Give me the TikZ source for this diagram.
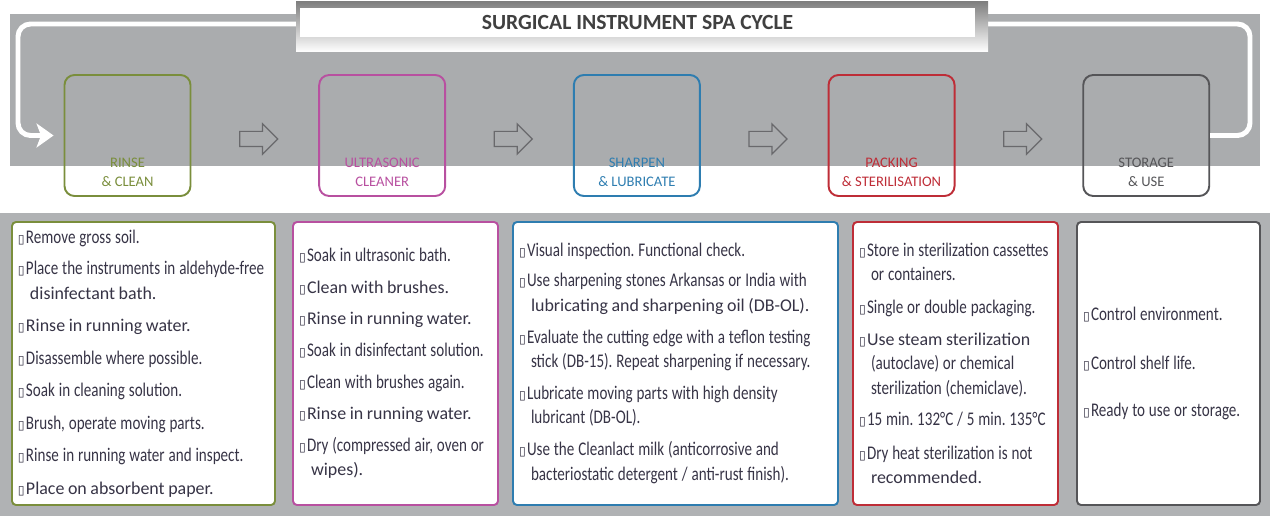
\documentclass[tikz,border=0pt]{standalone}
\usepackage{fontspec}
\setmainfont{Carlito}
\newfontfamily\cond[FakeStretch=0.78]{Carlito}
\newfontfamily\wide{Carlito}
\newfontfamily\symf{DejaVu Sans}
\usetikzlibrary{positioning, calc, shapes.arrows, arrows.meta}
\definecolor{band}{RGB}{170,172,174}
\definecolor{lowgray}{RGB}{176,178,180}
\definecolor{shade}{RGB}{138,140,143}
\definecolor{arrgray}{RGB}{105,105,108}
\definecolor{txt}{RGB}{55,52,70}
\definecolor{cgreen}{RGB}{122,142,60}
\definecolor{cmag}{RGB}{184,80,160}
\definecolor{cblue}{RGB}{46,125,176}
\definecolor{cred}{RGB}{190,45,55}
\definecolor{cdark}{RGB}{85,85,88}
\frenchspacing
\newcommand{\tight}{\spaceskip=0.2em plus 0.08em minus 0.04em\relax}
\newcommand{\itm}{\tight\makebox[1.6mm][l]{\symf\fontsize{7}{7}\selectfont ▯}}
\newcommand{\cnt}{\tight\hspace*{2.4mm}}
\newcommand{\widetxt}[1]{{\wide\fontsize{10.2}{14}\selectfont\tight #1}}
\tikzset{
  stage/.style={draw, rounded corners=2mm, line width=1.1pt,
                minimum width=25.2mm, minimum height=24.2mm},
  slbl/.style={font=\wide\fontsize{8.3}{10.8}\selectfont, align=center, inner sep=0.5mm},
  nxt/.style={single arrow, draw=arrgray, line width=0.7pt, minimum height=7.6mm,
              minimum width=5.8mm, single arrow head extend=1.5mm, inner sep=1.4mm},
  card/.style={draw, fill=white, rounded corners=0.8mm, line width=1.1pt, align=left,
               minimum height=56.6mm, inner xsep=1.2mm, text=txt,
               font=\cond\fontsize{11}{14}\selectfont},
  ttl/.style={fill=white, minimum width=135mm, minimum height=5.8mm, text=black!75,
              font=\wide\bfseries\fontsize{12.3}{13}\selectfont},
  back/.style={white, line width=2.8pt, rounded corners=2.5mm, shorten >=2mm,
               -{Stealth[length=3.4mm, width=4.8mm, inset=0.9mm]}},
}
\begin{document}
\begin{tikzpicture}[x=0.2mm, y=-0.2mm, node distance=25.35mm]
\useasboundingbox (0,0) rectangle (1270,516);
% backdrop
\fill[band] (10,14) rectangle (1260,166);
\fill[lowgray] (0,213) rectangle (1270,516);

% stages
\node[stage, draw=cgreen] (r1) at (127.5,135.5) {};
\node[stage, draw=cmag, right=of r1] (r2) {};
\node[stage, draw=cblue, right=of r2] (r3) {};
\node[stage, draw=cred, right=of r3] (r4) {};
\node[stage, draw=cdark, right=of r4] (r5) {};
\node[slbl, text=cgreen, above=1.6mm of r1.south] (l1) {RINSE\\\& CLEAN};
\node[slbl, text=cmag, above=1.6mm of r2.south] (l2) {ULTRASONIC\\CLEANER};
\node[slbl, text=cblue, above=1.6mm of r3.south] (l3) {SHARPEN\\\& LUBRICATE};
\node[slbl, text=cred, above=1.6mm of r4.south] (l4) {PACKING\\\& STERILISATION};
\node[slbl, text=cdark, above=1.6mm of r5.south] (l5) {STORAGE\\\& USE};

% back to the start
\coordinate (ur) at (1250,24);
\coordinate (ul) at (18,24);
\draw[back] (r5.east) -| (ur) -- (ul) |- (r1.west);

% title
\fill[shade] (296,2) rectangle (988,52);
\node[ttl] (title) at (637.5,22.5) {SURGICAL INSTRUMENT SPA CYCLE};

\node[nxt, yshift=-0.7mm] (n1) at ($(r1)!0.5!(r2)$) {};
\node[nxt, yshift=-0.7mm] (n2) at ($(r2)!0.5!(r3)$) {};
\node[nxt, yshift=-0.7mm] (n3) at ($(r3)!0.5!(r4)$) {};
\node[nxt, yshift=-0.7mm] (n4) at ($(r4)!0.5!(r5)$) {};

% cards
\node[card, draw=cgreen, text width=50.2mm] (c1) at (143.5,363.5) {%
  \itm Remove gross soil.\\[4pt]
  \itm Place the instruments in aldehyde-free\\
  \cnt\widetxt{disinfectant bath.}\\[4.5pt]
  \itm\widetxt{Rinse in running water.}\\[4.5pt]
  \itm Disassemble where possible.\\[4.5pt]
  \itm Soak in cleaning solution.\\[4.5pt]
  \itm Brush, operate moving parts.\\[4.5pt]
  \itm Rinse in running water and inspect.\\[4.5pt]
  \itm\widetxt{Place on absorbent paper.}};
\node[card, draw=cmag, text width=38.6mm] (c2) at (395.5,363.5) {%
  \itm Soak in ultrasonic bath.\\[4pt]
  \itm\widetxt{Clean with brushes.}\\[4pt]
  \itm\widetxt{Rinse in running water.}\\[4pt]
  \itm Soak in disinfectant solution.\\[4pt]
  \itm Clean with brushes again.\\[4pt]
  \itm\widetxt{Rinse in running water.}\\[4pt]
  \itm Dry (compressed air, oven or\\
  \cnt\widetxt{wipes).}};
\node[card, draw=cblue, text width=62.6mm] (c3) at (675.5,363.5) {%
  \itm Visual inspection. Functional check.\\[3pt]
  \itm Use sharpening stones Arkansas or India with\\
  \cnt\widetxt{lubricating and sharpening oil (DB-OL).}\\[4pt]
  \itm Evaluate the cutting edge with a teflon testing\\
  \cnt stick (DB-15). Repeat sharpening if necessary.\\[4pt]
  \itm Lubricate moving parts with high density\\
  \cnt lubricant (DB-OL).\\[4pt]
  \itm Use the Cleanlact milk (anticorrosive and\\
  \cnt bacteriostatic detergent / anti-rust finish).};
\node[card, draw=cred, text width=38.6mm] (c4) at (955.5,363.5) {%
  \itm Store in sterilization cassettes\\
  \cnt or containers.\\[4.5pt]
  \itm Single or double packaging.\\[4pt]
  \itm\widetxt{Use steam sterilization}\\
  \cnt (autoclave) or chemical\\
  \cnt sterilization (chemiclave).\\[4pt]
  \itm\mbox{15 min. 132°C / 5 min. 135°C}\\[5pt]
  \itm Dry heat sterilization is not\\
  \cnt\widetxt{recommended.}};
\node[card, draw=cdark, text width=34.2mm] (c5) at (1168.5,363.5) {%
  \itm Control environment.\\[14pt]
  \itm Control shelf life.\\[13pt]
  \itm Ready to use or storage.};
\end{tikzpicture}
\end{document}
